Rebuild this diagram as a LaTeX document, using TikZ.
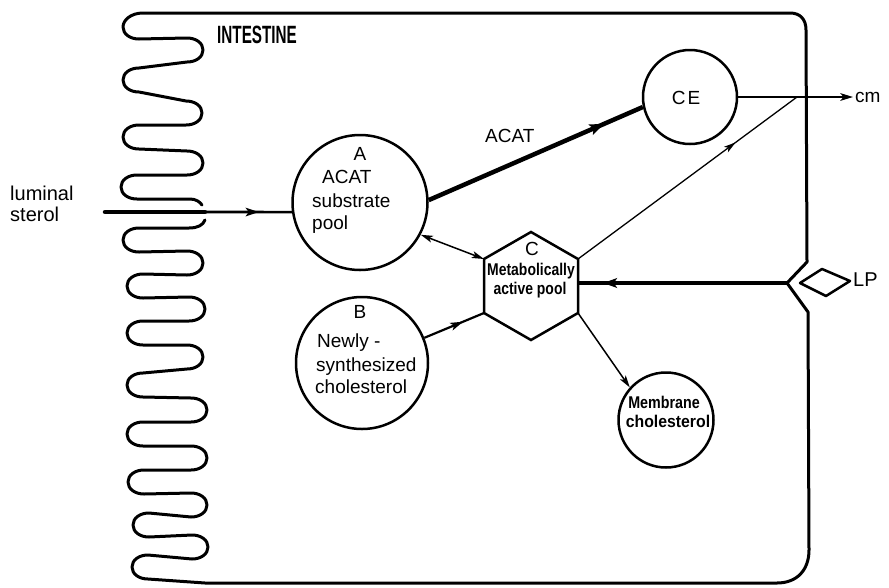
\documentclass[tikz,border=0pt]{standalone}
\usepackage{fontspec}
\setmainfont{Liberation Sans}
\usepackage{graphicx}
\usetikzlibrary{arrows.meta,decorations.markings}
\tikzset{
  >={Stealth[length=11pt 0.8,width=5pt 1.3,inset=3pt]},
  wall/.style={line width=3pt, line join=round, line cap=round},
  pool/.style={circle, draw, line width=2.5pt, inner sep=0pt},
  txt/.style={font=\fontsize{19}{22}\selectfont, inner sep=0pt},
  cond/.style={font=\fontsize{17}{20}\selectfont\bfseries, inner sep=0pt},
  midarrow/.style={postaction={decorate,decoration={markings,mark=at position #1 with {\arrow{>}}}}},
}
\begin{document}
\begin{tikzpicture}[x=1pt,y=-1pt]
\useasboundingbox (0,0) rectangle (889,587);

% cell outline
\coordinate (notch) at (787,283);
\draw[wall] (205,220) .. controls +(-2,5) and +(9,0) .. (189,228) -- (139,228) .. controls +(-9,0) and +(0,-7) .. (123,240)
 .. controls +(0,7) and +(-9,0) .. (139,252) -- (187,251) .. controls +(9,0) and +(0,-7) .. (203,263)
 .. controls +(0,7) and +(9,0) .. (187,275) -- (143,274) .. controls +(-9,0) and +(0,-7) .. (127,286)
 .. controls +(0,7) and +(-9,0) .. (143,298) -- (189,297) .. controls +(9,0) and +(0,-7) .. (205,309)
 .. controls +(0,7) and +(9,0) .. (189,321) -- (143,321) .. controls +(-9,0) and +(0,-7) .. (127,333)
 .. controls +(0,7) and +(-9,0) .. (143,345) -- (187,345) .. controls +(9,0) and +(0,-7) .. (203,357)
 .. controls +(0,7) and +(9,0) .. (187,369) -- (143,373) .. controls +(-9,0) and +(0,-7) .. (127,385)
 .. controls +(0,7) and +(-9,0) .. (143,397) -- (191,398) .. controls +(9,0) and +(0,-7) .. (207,410)
 .. controls +(0,7) and +(9,0) .. (191,422) -- (143,422) .. controls +(-9,0) and +(0,-7) .. (127,434)
 .. controls +(0,7) and +(-9,0) .. (143,446) -- (191,446) .. controls +(9,0) and +(0,-7) .. (207,458)
 .. controls +(0,7) and +(9,0) .. (191,470) -- (144,470) .. controls +(-9,0) and +(0,-7) .. (128,482)
 .. controls +(0,7) and +(-9,0) .. (144,494) -- (191,493) .. controls +(9,0) and +(0,-7) .. (207,505)
 .. controls +(0,7) and +(9,0) .. (191,517) -- (149,513) .. controls +(-9,0) and +(0,-7) .. (133,525)
 .. controls +(0,7) and +(-9,0) .. (149,537) -- (192,535) .. controls +(9,0) and +(0,-7) .. (208,547)
 .. controls +(0,7) and +(9,0) .. (192,559) -- (148,555) .. controls +(-9,0) and +(0,-7) .. (132,567)
 .. controls +(0,7) and +(-9,0) .. (148,579) -- (205,583)
 -- (777,583) .. controls +(20,0) and +(0,20) .. (809,550)
 -- (808,312) -- (notch) -- (807,262) -- (806,30)
 .. controls +(0,-11) and +(10,0) .. (790,13)
 -- (143,13) .. controls +(-12,0) and +(0,-7) .. (123,27)
 .. controls +(0,7) and +(-9,0) .. (139,39) -- (187,38) .. controls +(9,0) and +(0,-7) .. (203,50)
 .. controls +(0,7) and +(9,0) .. (187,62) -- (139,68) .. controls +(-9,0) and +(0,-7) .. (123,80)
 .. controls +(0,7) and +(-9,0) .. (139,92) -- (186,101) .. controls +(9,0) and +(0,-7) .. (202,113)
 .. controls +(0,7) and +(9,0) .. (186,125) -- (139,125) .. controls +(-9,0) and +(0,-7) .. (123,137)
 .. controls +(0,7) and +(-9,0) .. (139,149) -- (187,151) .. controls +(9,0) and +(0,-7) .. (203,163)
 .. controls +(0,7) and +(9,0) .. (187,175) -- (137,175) .. controls +(-9,0) and +(0,-7) .. (121,187)
 .. controls +(0,7) and +(-9,0) .. (137,199) -- (190,199) .. controls +(6,0) and +(-2,-3) .. (202,205);

\node[inner sep=0pt, font=\fontsize{25}{28}\selectfont\bfseries, anchor=base west] (intestine) at (217,43) {\scalebox{0.61}[1]{INTESTINE}};

% pools
\node[pool, minimum size=135pt] (A) at (360,202.5) {};
\node[pool, minimum size=132pt] (B) at (362,363) {};
\node[pool, minimum size=94pt] (CE) at (690,97) {};
\node[pool, minimum size=95pt] (M) at (666,420) {};

% hexagon C
\coordinate (h1) at (531,232);
\coordinate (h2) at (578,259);
\coordinate (h3) at (578,313);
\coordinate (h4) at (531,340);
\coordinate (h5) at (484,313);
\coordinate (h6) at (484,259);
\coordinate (hE) at (578,283);
\draw[line width=2.5pt, line join=miter] (h1)--(h2)--(h3)--(h4)--(h5)--(h6)--cycle;
\node[txt, anchor=base] (C) at (532,255) {C};
\node[cond, anchor=base] (Cl1) at (531,275) {\scalebox{0.82}[1]{Metabolically}};
\node[cond, anchor=base] (Cl2) at (530,294) {\scalebox{0.82}[1]{active pool}};

% texts in A
\node[txt, anchor=base] (Al0) at (360,160) {A};
\node[txt, anchor=base west] (Al1) at (322,183) {ACAT};
\node[txt, anchor=base west] (Al2) at (312,207) {substrate};
\node[txt, anchor=base west] (Al3) at (312,229) {pool};

% texts in B
\node[txt, anchor=base] (Bl0) at (360,318) {B};
\node[txt, anchor=base west] (Bl1) at (317,347) {Newly -};
\node[txt, anchor=base west] (Bl2) at (316,371) {synthesized};
\node[txt, anchor=base west] (Bl3) at (315,393) {cholesterol};

% CE, membrane
\node[txt, anchor=base] (CEl) at (686,104) {C\hspace{2pt}E};
\node[cond, anchor=base] (Ml1) at (664,408) {\scalebox{0.84}[1]{Membrane}};
\node[cond, anchor=base] (Ml2) at (668,427) {\scalebox{0.93}[1]{cholesterol}};

% outside labels
\node[txt, font=\fontsize{20}{22}\selectfont, anchor=base west] (lum1) at (10,200) {luminal};
\node[txt, font=\fontsize{20}{22}\selectfont, anchor=base west] (lum2) at (10,221) {sterol};
\node[txt, anchor=base west] (cm) at (855,102) {cm};
\node[txt, font=\fontsize{20}{22}\selectfont, anchor=base west] (LP) at (853,286) {LP};
\node[txt, anchor=base west] (acat) at (485,142) {ACAT};

% lipoprotein diamond
\draw[line width=2.5pt, line join=round] (800,283) -- (822,269) -- (850,281) -- (826,296) -- cycle;

% connectors
\coordinate (lum) at (105,212);
\coordinate (wallpt) at (205,212);
\coordinate (cmend) at (853,97);
\coordinate (join) at (797,97);
\draw[line width=4.5pt, line cap=round] (lum) -- (wallpt);
\draw[line width=2.6pt, midarrow=0.62] (wallpt) -- (A.188);
\draw[line width=4.5pt, midarrow=0.82] (A.2) -- (CE.192);
\draw[line width=2pt, ->] (CE.east) -- (cmend);
\draw[line width=1.3pt, midarrow=0.72] (h2) -- (join);
\draw[line width=1.5pt, <->] (A.-28) -- (h6);
\draw[line width=2.2pt, midarrow=0.65] (B.22) -- (h5);
\draw[line width=1.5pt, ->] (h3) -- (M.138);
\draw[line width=3.5pt, midarrow=0.88] (notch) -- (hE);
\end{tikzpicture}
\end{document}
